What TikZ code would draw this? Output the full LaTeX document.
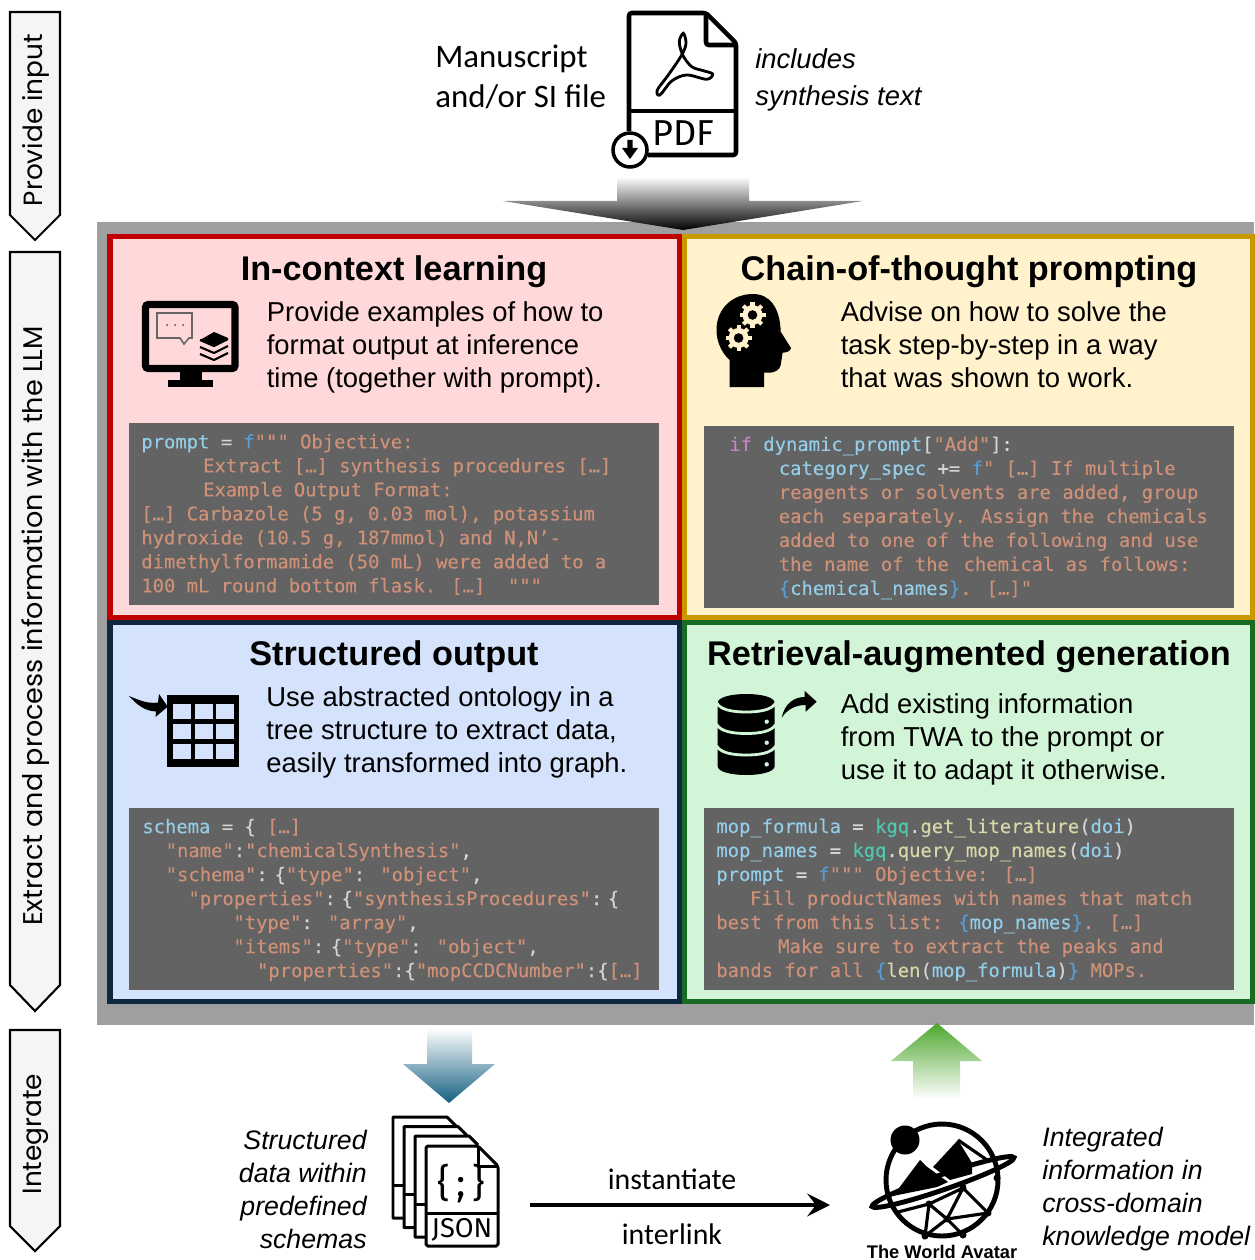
\documentclass[tikz,border=0pt]{standalone}
\usepackage{fontspec}
\setmainfont{Liberation Sans}
\newfontfamily\codefont[FakeBold=0.15]{DejaVu Sans Mono}
\newfontfamily\notefont{Carlito}
\newfontfamily\iconfont{Fira Sans}
\newfontfamily\sidefont{Poppins}
\usetikzlibrary{arrows.meta}
\definecolor{BackGrey}{HTML}{9F9F9F}
\definecolor{SideFill}{HTML}{F5F5F5}
\definecolor{ICLine}{HTML}{C00000}
\definecolor{ICFill}{HTML}{FFD9D9}
\definecolor{CTLine}{HTML}{C99700}
\definecolor{CTFill}{HTML}{FFF2CC}
\definecolor{SOLine}{HTML}{0E2841}
\definecolor{SOFill}{HTML}{D4E2FC}
\definecolor{RGLine}{HTML}{196B24}
\definecolor{RGFill}{HTML}{D1F5D6}
\definecolor{CodeBack}{HTML}{636363}
\definecolor{CodeStr}{HTML}{CE9178}
\definecolor{CodeVar}{HTML}{93CDE8}
\definecolor{CodeKey}{HTML}{569CD6}
\definecolor{CodeFun}{HTML}{D6D6A6}
\definecolor{CodeCls}{HTML}{4EC9B0}
\definecolor{CodeIf}{HTML}{C586C0}
\definecolor{CodePun}{HTML}{D4D4D4}
\definecolor{ArrowBlue}{HTML}{156082}
\definecolor{ArrowGreen}{HTML}{4EA72E}
\newlength{\codewd}
\setlength{\codewd}{6.4pt}
\newcommand{\ind}[1]{\hspace*{#1\codewd}}
\newcommand{\cstr}[1]{\textcolor{CodeStr}{#1}}
\newcommand{\cvar}[1]{\textcolor{CodeVar}{#1}}
\newcommand{\ckey}[1]{\textcolor{CodeKey}{#1}}
\newcommand{\cfun}[1]{\textcolor{CodeFun}{#1}}
\newcommand{\ccls}[1]{\textcolor{CodeCls}{#1}}
\newcommand{\cpun}[1]{\textcolor{CodePun}{#1}}
\tikzset{
  panel/.style={line width=2.85pt},
  codeback/.style={fill=CodeBack},
  codetext/.style={anchor=west,inner sep=0pt,align=left,font=\codefont\fontsize{10.72}{13.66}\selectfont},
  sectitle/.style={inner sep=0pt,font=\bfseries\fontsize{19.5}{23}\selectfont},
  secbody/.style={anchor=west,inner sep=0pt,align=left,font=\fontsize{15.6}{18.8}\selectfont},
  sidearrow/.style={draw=black,fill=SideFill,line width=1.2pt},
  sidelabel/.style={rotate=90,inner sep=0pt,font=\sidefont\fontsize{15}{18}\selectfont},
  notelabel/.style={inner sep=0pt,align=left,font=\notefont\fontsize{18.7}{22.8}\selectfont},
  noteital/.style={inner sep=0pt,font=\itshape\fontsize{15.2}{18.8}\selectfont},
}
\tikzset{pdficon/.pic={ %{{{
  \begin{scope}[line width=2.6pt,line join=round,rounded corners=1.5pt]
    \draw (1,118) -- (1,0) -- (78,0) -- (108,30) -- (108,142) -- (20,142);
    \draw (78,0) -- (78,32) -- (108,32);
    \draw (1,98) -- (108,98);
  \end{scope}
  \draw[line width=1.6pt] plot[smooth cycle,tension=0.55] coordinates {
    (55.3,20.3) (51.3,28.7) (54.7,42) (63.7,53.7) (75.3,57.7) (84.7,61) (78.7,66.3) (58.7,62)
    (43.7,68) (32,82) (29.3,77) (40.3,62) (53.7,42) (58,30.3)};
  \node[inner sep=0pt,font=\iconfont\fontsize{20.5}{20}\selectfont] (tag) at (55,120) {PDF};
  \draw[fill=white,line width=2pt] (2,137) circle[radius=17];
  \fill (-0.7,127) -- (4.7,127) -- (4.7,135) -- (10,135) -- (2,146) -- (-6,135) -- (-0.7,135) -- cycle;
}}
%}}}
\tikzset{jsonicon/.pic={ %{{{
  \begin{scope}[line width=1.7pt,line join=round]
    \foreach \dx/\dy in {0/0,11/9.5,22/19} {
      \draw (\dx+11,\dy+101) -- (\dx,\dy+101) -- (\dx,\dy) -- (\dx+54,\dy) -- (\dx+63,\dy+9);
      \draw (\dx,\dy+68) -- (\dx+11,\dy+68);
    }
    \draw[rounded corners=1pt] (33,29) -- (85,29) -- (105,49) -- (105,129) -- (33,129) -- cycle;
    \draw (85,29) -- (85,49) -- (105,49);
    \draw (33,96) -- (105,96);
  \end{scope}
  \node[inner sep=0pt,font=\iconfont\fontsize{22}{22}\selectfont] (braces) at (68.5,67) {\{\,;\,\}};
  \node[inner sep=0pt,font=\iconfont\fontsize{15.5}{15}\selectfont] (tag) at (69,113) {JSON};
}}
%}}}
\tikzset{monitoricon/.pic={ %{{{
  \draw[line width=4pt,rounded corners=1.5pt] (3.5,3.5) rectangle (93,67.5);
  \fill (38,70) rectangle (60,80);
  \fill (26,79) rectangle (70.5,86);
  % speech bubble
  \draw[black!60,line width=0.9pt] (15,12) -- (50,12) -- (50,37) -- (47,37) -- (42,43) -- (38,37) -- (15,37) -- cycle;
  \foreach \dotx in {25,33,41}
    \fill[black!70] (\dotx,24) circle[radius=1];
  % books
  \fill (58,39) -- (72,31) -- (86,37) -- (72,44) -- cycle;
  \foreach \k in {0,7,14}
    \draw[line width=1.2pt,line join=round] (58,39+\k) -- (72,45+\k) -- (86,38+\k);
}}
%}}}
\tikzset{headicon/.pic={ %{{{
  \fill (13.5,93) -- (13.5,66) .. controls (5,58) and (0.5,47) .. (0.5,36)
    .. controls (0.5,14) and (17,0) .. (37,0) .. controls (54,0) and (64,14) .. (64.7,37.7)
    -- (75,54) .. controls (75,57) and (70,58.7) .. (66.6,58.7) -- (64.7,71)
    .. controls (64,76) and (58,78.7) .. (53.7,78.7) -- (48,78.7) -- (48,93) -- cycle;
  \foreach \gx/\gy in {36.5/21,22.6/44} {
    \foreach \ang in {0,45,...,315}
      \draw[CTFill,line width=2.4pt] (\gx,\gy) -- ++(\ang:13);
    \fill[CTFill] (\gx,\gy) circle[radius=10];
    \fill (\gx,\gy) circle[radius=4.8];
  }
}}
%}}}
\tikzset{tableicon/.pic={ %{{{
  \fill (38.3,1) rectangle (110,72.7);
  \foreach \cx in {44,65.5,87}
    \foreach \cy in {9.5,29.5,49.5}
      \fill[SOFill] (\cx,\cy) rectangle ++(18,15);
  \fill (0,2) .. controls (10,6) and (18,10) .. (29,8.5) -- (30,0) -- (38.7,12.7) -- (26.5,23)
    -- (27,17.5) .. controls (16,17) and (8,11) .. cycle;
}}
%}}}
\tikzset{dbicon/.pic={ %{{{
  \fill (0,9) -- (0,72) .. controls (0,78) and (14,81) .. (28.5,81) .. controls (43,81) and (57,78) .. (57,72)
    -- (57,9) .. controls (57,3) and (43,0) .. (28.5,0) .. controls (14,0) and (0,3) .. (0,9) -- cycle;
  \foreach \gy in {9,30.5,52}
    \draw[RGFill,line width=1.6pt] (-1,\gy) .. controls (3,\gy+7) and (15,\gy+9) .. (28.5,\gy+9)
      .. controls (42,\gy+9) and (54,\gy+7) .. (58,\gy);
  \foreach \dy in {27.7,48.7,70.3}
    \fill[RGFill] (49,\dy) circle[radius=2.2];
  \fill (64,23.7) .. controls (67,9) and (77,3) .. (87,3) -- (87,-3) -- (99,7.7) -- (88,17.7) -- (88,11)
    .. controls (78,11) and (70,15) .. cycle;
}}
%}}}
\tikzset{twaicon/.pic={ %{{{
  \draw[line width=2.8pt] (0,0) circle[radius=56];
  \fill (-37,-40) circle[radius=14.5];
  % mountains
  \fill (-49,16) -- (-22,-20) -- (-16,-14) -- (6,2) -- (-5,7) -- cycle;
  \fill (-9,-13) -- (16,-40) -- (30,-17) -- (30,-6) -- (8,0) -- cycle;
  \draw[line width=1.8pt] (16,-40) -- (48,-18);
  % graph
  \foreach \pn/\px/\py in {a/-44/32,b/-13/24,c/21/8,d/55/-2,e/5/39,f/-17/56,g/21/55,h/46/33}
    \coordinate (n\pn) at (\px,\py);
  \draw[line width=1.8pt] (na) -- (nb) -- (nc) -- (ne) -- (nb) -- (nf) -- (ne) -- (ng) (ne) -- (nh) -- (nc);
  \foreach \pn in {b,c,d,e,f,g,h}
    \fill (n\pn) circle[radius=3.5];
  \draw[line width=2.8pt,rotate around={19:(1,2)}] (1,2) ellipse[x radius=75,y radius=7.5];
  \node[inner sep=0pt,font=\bfseries\fontsize{10.4}{12}\selectfont] (caption) at (0,72) {The World Avatar};
}}
%}}}
\begin{document}
\begin{tikzpicture}[x=0.02cm,y=-0.02cm]
  \useasboundingbox (0,0) rectangle (1254,1260);

  % Phases
  \draw[sidearrow] (10,12) -- (60,12) -- (60,215) -- (35,240) -- (10,215) -- cycle;
  \draw[sidearrow] (10,252) -- (60,252) -- (60,985) -- (35,1011) -- (10,985) -- cycle;
  \draw[sidearrow] (10,1030) -- (60,1030) -- (60,1226) -- (35,1251) -- (10,1226) -- cycle;
  \node[sidelabel] (input) at (36,120) {Provide input};
  \node[sidelabel,font=\sidefont\fontsize{15.4}{18}\selectfont] (extract) at (36,626) {Extract and process information with the LLM};
  \node[sidelabel] (integrate) at (36,1134) {Integrate};

  % Panels
  \fill[BackGrey] (97,222) rectangle (1254,1025);
  \draw[panel,draw=ICLine,fill=ICFill] (110,236.5) rectangle (679,617);
  \draw[panel,draw=CTLine,fill=CTFill] (684,236.5) rectangle (1252,617);
  \draw[panel,draw=SOLine,fill=SOFill] (110,622.5) rectangle (679,1001.5);
  \draw[panel,draw=RGLine,fill=RGFill] (684,622.5) rectangle (1252,1001.5);
  \fill[codeback] (128.5,423) rectangle (658.6,605);
  \fill[codeback] (704,426) rectangle (1233.5,608);
  \fill[codeback] (129,808) rectangle (659.4,990);
  \fill[codeback] (704,808) rectangle (1233.5,990);

  % Input
  \pic (pdf) at (628,13) {pdficon};
  \node[notelabel,anchor=west] (manuscript) at (435,77) {Manuscript\\and/or SI file};
  \node[noteital,anchor=west,align=left,font=\itshape\fontsize{15.6}{21}\selectfont] (includes) at (755,80) {includes\\synthesis text};
  \shade[top color=white,bottom color=black] (617,177) -- (749,177) -- (749,201) -- (863,201)
    -- (683,230) -- (503,201) -- (617,201) -- cycle;

  % In-context learning
  \node[sectitle] (ictitle) at (394,272) {In-context learning};
  \pic at (142,301) {monitoricon};
  \node[secbody] (icbody) at (266.5,347) {Provide examples of how to\\format output at inference\\time (together with prompt).};
  \node[codetext] (iccode) at (141,514.5) {
    \cvar{prompt} \cpun{=} \ckey{f}\cstr{""" Objective:}\\
    \ind{5.5}\cstr{Extract […] synthesis procedures […]}\\
    \ind{5.5}\cstr{Example Output Format:}\\
    \cstr{[…] Carbazole (5 g, 0.03 mol), potassium}\\
    \cstr{hydroxide (10.5 g, 187mmol) and N,N’-}\\
    \cstr{dimethylformamide (50 mL) were added to a}\\
    \cstr{100 mL round bottom flask. […]\ \ """}};

  % Chain-of-thought prompting
  \node[sectitle] (cttitle) at (969,272) {Chain-of-thought prompting};
  \pic at (716,294) {headicon};
  \node[secbody] (ctbody) at (840.5,345) {Advise on how to solve the\\task step-by-step in a way\\that was shown to work.};
  \node[codetext] (ctcode) at (729,518) {
    \textcolor{CodeIf}{if} \cvar{dynamic\_prompt}\cpun{[}\cstr{"Add"}\cpun{]:}\\
    \ind{4.4}\cvar{category\_spec} \cpun{+=} \ckey{f}\cstr{" […] If multiple}\\
    \ind{4.4}\cstr{reagents or solvents are added, group}\\
    \ind{4.4}\cstr{each\hspace{0.5\codewd} separately. Assign the chemicals}\\
    \ind{4.4}\cstr{added to one of the following and use}\\
    \ind{4.4}\cstr{the name of the\hspace{0.3\codewd} chemical as follows:}\\
    \ind{4.4}\ckey{\{}\cvar{chemical\_names}\ckey{\}}\cstr{. […]"}};

  % Structured output
  \node[sectitle] (sotitle) at (394,657) {Structured output};
  \pic at (129,694) {tableicon};
  \node[secbody] (sobody) at (266,732) {Use abstracted ontology in a\\tree structure to extract data,\\easily transformed into graph.};
  \node[codetext] (socode) at (142,900) {
    \cvar{schema} \cpun{= \{} \cstr{[…]}\\
    \ind{2.08}\cstr{"name"}\cpun{:}\cstr{"chemicalSynthesis"}\cpun{,}\\
    \ind{2.08}\cstr{"schema"}\cpun{:\hspace{0.6\codewd}\{}\cstr{"type"}\cpun{:} \cstr{"object"}\cpun{,}\\
    \ind{4.1}\cstr{"properties"}\cpun{:\hspace{0.5\codewd}\{}\cstr{"synthesisProcedures"}\cpun{:\hspace{0.5\codewd}\{}\\
    \ind{8.1}\cstr{"type"}\cpun{:} \cstr{"array"}\cpun{,}\\
    \ind{8.1}\cstr{"items"}\cpun{:\hspace{0.6\codewd}\{}\cstr{"type"}\cpun{:} \cstr{"object"}\cpun{,}\\
    \ind{10.2}\cstr{"properties"}\cpun{:\{}\cstr{"mopCCDCNumber"}\cpun{:\{}\cstr{[…]}};

  % Retrieval-augmented generation
  \node[sectitle] (rgtitle) at (969,657) {Retrieval-augmented generation};
  \pic at (717.7,694) {dbicon};
  \node[secbody] (rgbody) at (840.5,739) {Add existing information\\from TWA to the prompt or\\use it to adapt it otherwise.};
  \node[codetext] (rgcode) at (716,900) {
    \cvar{mop\_formula} \cpun{=} \ccls{kgq}\cpun{.}\cfun{get\_literature}\cpun{(}\cvar{doi}\cpun{)}\\
    \cvar{mop\_names} \cpun{=} \ccls{kgq}\cpun{.}\cfun{query\_mop\_names}\cpun{(}\cvar{doi}\cpun{)}\\
    \cvar{prompt} \cpun{=} \ckey{f}\cstr{""" Objective: […]}\\
    \ind{3}\cstr{Fill productNames with names that match}\\
    \cstr{best from this list:} \ckey{\{}\cvar{mop\_names}\ckey{\}}\cstr{. […]}\\
    \ind{5.5}\cstr{Make sure to extract the peaks and}\\
    \cstr{bands for all} \ckey{\{}\cfun{len}\cpun{(}\cvar{mop\_formula}\cpun{)}\ckey{\}} \cstr{MOPs.}};

  % Integration
  \shade[top color=white,bottom color=ArrowBlue] (427,1028) -- (472,1028) -- (472,1064) -- (495,1064)
    -- (449,1103) -- (403,1064) -- (427,1064) -- cycle;
  \shade[top color=ArrowGreen,bottom color=white] (937,1023) -- (982,1061) -- (960,1061) -- (960,1099)
    -- (913,1099) -- (913,1061) -- (891,1061) -- cycle;
  \pic at (393,1117) {jsonicon};
  \pic at (942,1180) {twaicon};
  \coordinate (jsonout) at (530,1205);
  \coordinate (twain) at (830,1205);
  \draw[line width=2.3pt,-{Stealth[length=13pt,width=13pt,inset=5pt]}] (jsonout) -- (twain);
  \node[inner sep=0pt,font=\notefont\fontsize{17}{20}\selectfont] (instantiate) at (672,1179) {instantiate};
  \node[inner sep=0pt,font=\notefont\fontsize{17}{20}\selectfont] (interlink) at (672,1234) {interlink};
  \node[noteital,anchor=east,align=right] (structured) at (367,1189) {Structured\\data within\\predefined\\schemas};
  \node[noteital,anchor=west,align=left] (integrated) at (1042,1189) {Integrated\\information in\\cross-domain\\knowledge model};
\end{tikzpicture}
\end{document}
